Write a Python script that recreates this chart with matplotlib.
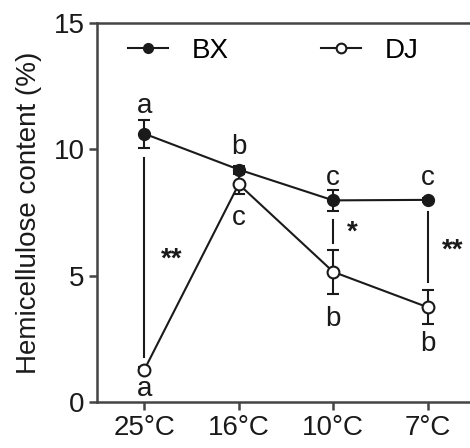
import matplotlib
matplotlib.use("Agg")
import matplotlib.pyplot as plt
from matplotlib.lines import Line2D
import numpy as np

plt.rcParams['font.family'] = ['Liberation Sans', 'DejaVu Sans']

categories = ["25°C", "16°C", "10°C", "7°C"]
bx_mean = [10.62, 9.2, 7.98, 8.0]
bx_err = [0.55, 0.15, 0.42, 0.08]
dj_mean = [1.27, 8.62, 5.15, 3.75]
dj_err = [0.1, 0.4, 0.88, 0.68]
bx_letters = ["a", "b", "c", "c"]
dj_letters = ["a", "c", "b", "b"]
sig_marks = ["**", "", "*", "**"]

FS = 20
LC = '#1a1a1a'

fig = plt.figure(figsize=(4.7, 4.48), dpi=100)
ax = fig.add_axes([97/470, 1 - 402/448, (475 - 97)/470, (402 - 23)/448])

x = np.arange(len(categories))
ax.errorbar(x, bx_mean, yerr=bx_err, color=LC, marker='o', ms=8.5,
            mfc=LC, mec=LC, lw=1.5, capsize=4.5, elinewidth=1.5,
            capthick=1.5, zorder=3)
ax.errorbar(x, dj_mean, yerr=dj_err, color=LC, marker='o', ms=8.5,
            mfc='white', mec=LC, mew=1.5, lw=1.5, capsize=4.5,
            elinewidth=1.5, capthick=1.5, zorder=3)

# significance vertical lines
sig_lines = [(0, 1.8, 9.65), (2, 6.3, 7.2), (3, 4.75, 7.5)]
for xi, y0, y1 in sig_lines:
    ax.plot([xi, xi], [y0, y1], color=LC, lw=1.5)
sig_pos = [(0.29, 5.65), None, (2.2, 6.7), (3.26, 6.0)]
for mark, pos in zip(sig_marks, sig_pos):
    if mark and pos:
        ax.text(pos[0], pos[1], mark, ha='center', va='center', fontsize=FS,
                fontweight='bold', color=LC)

bx_lab_y = [11.7, 10.1, 8.85, 8.85]
dj_lab_y = [0.5, 7.3, 3.3, 2.3]
for xi, t, yy in zip(x, bx_letters, bx_lab_y):
    ax.text(xi, yy, t, ha='center', va='center', fontsize=FS, color=LC)
for xi, t, yy in zip(x, dj_letters, dj_lab_y):
    ax.text(xi, yy, t, ha='center', va='center', fontsize=FS, color=LC)

ax.set_xlim(-0.5, 3.5)
ax.set_ylim(0, 15)
ax.set_yticks([0, 5, 10, 15])
ax.set_xticks(x)
ax.set_xticklabels(categories)
ax.tick_params(labelsize=FS, width=1.8, length=6, color='#444444',
               labelcolor=LC, pad=3)
for s in ax.spines.values():
    s.set_linewidth(1.8)
    s.set_color('#444444')
ax.set_ylabel("Hemicellulose content (%)", fontsize=FS, labelpad=8, color=LC)

handles = [
    Line2D([], [], color=LC, lw=1.5, marker='o', ms=7, mfc=LC, mec=LC),
    Line2D([], [], color=LC, lw=1.5, marker='o', ms=7, mfc='white', mec=LC, mew=1.5),
]
ax.legend(handles, ["BX", "DJ"], ncol=2, frameon=False, fontsize=FS,
          loc='center left', bbox_to_anchor=(0.082, 0.927),
          borderaxespad=0, borderpad=0,
          handlelength=1.45, columnspacing=3.3, handletextpad=0.85)

fig.savefig("out.png", dpi=100)
